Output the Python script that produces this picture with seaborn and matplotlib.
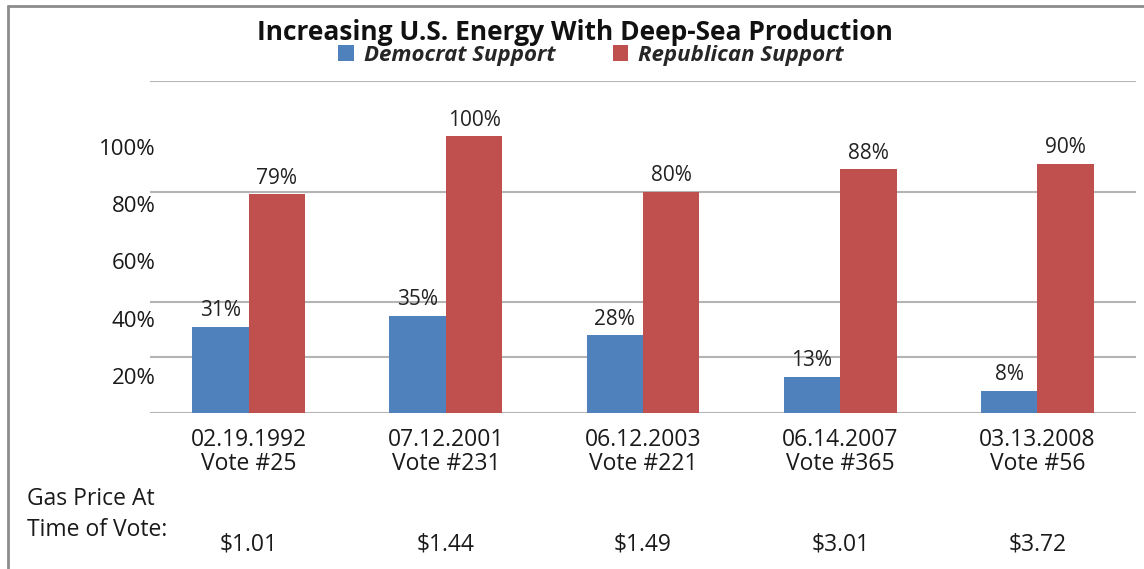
import matplotlib
matplotlib.use("Agg")
import matplotlib.pyplot as plt
import matplotlib.transforms as mtransforms
from matplotlib.patches import Patch
from matplotlib.lines import Line2D
import seaborn as sns
import pandas as pd

# ---- data ----
votes = ["02.19.1992\nVote #25", "07.12.2001\nVote #231", "06.12.2003\nVote #221",
         "06.14.2007\nVote #365", "03.13.2008\nVote #56"]
democrat = [31, 35, 28, 13, 8]
republican = [79, 100, 80, 88, 90]
gas_prices = ["$1.01", "$1.44", "$1.49", "$3.01", "$3.72"]
series_names = ["Democrat Support", "Republican Support"]
y_ticks = [20, 40, 60, 80, 100]
grid_levels = [0, 20, 40, 80, 120]
title = "Increasing U.S. Energy With Deep-Sea Production"

sns.set_theme(style="white")
plt.rcParams["font.family"] = ["Open Sans", "DejaVu Sans"]

BLUE = "#4F81BD"
RED = "#C0504D"
TXT = "#1a1a1a"
W, H = 1144, 569

df = pd.DataFrame({
    "vote": votes * 2,
    "party": [series_names[0]] * len(votes) + [series_names[1]] * len(votes),
    "value": democrat + republican,
})

fig = plt.figure(figsize=(W / 100, H / 100), dpi=100)
ax = fig.add_axes([150 / W, 1 - 412.7 / H, (1136 - 150) / W, (412.7 - 81) / H])

for g in grid_levels:
    ax.axhline(g, color="#b4b4b4", lw=1.5, zorder=0)

sns.barplot(data=df, x="vote", y="value", hue="party", palette=[BLUE, RED],
            width=0.573, gap=0, saturation=1, legend=False, ax=ax,
            edgecolor="none", zorder=2)

ax.set_ylim(0, 120)
ax.set_xlim(-0.5, len(votes) - 0.5)
for s in ax.spines.values():
    s.set_visible(False)
ax.set_xlabel("")
ax.set_ylabel("")
ax.grid(False)

for cont in ax.containers:
    ax.bar_label(cont, labels=[f"{int(b.get_height())}%" for b in cont],
                 padding=4, fontsize=15, color="#222222")

# x tick labels
ax.set_xticks(range(len(votes)))
ax.set_xticklabels(votes, fontsize=16.5, color=TXT, linespacing=1.0)
ax.tick_params(axis="x", length=0, pad=11)

# y tick labels (offset downward as in the reference)
ax.set_yticks(y_ticks)
ax.set_yticklabels([f"{v}%" for v in y_ticks], fontsize=16, color=TXT)
ax.tick_params(axis="y", length=0, pad=-4)
for v, lab in zip(y_ticks, ax.get_yticklabels()):
    off = 11 + (100 - v) * 0.09
    lab.set_transform(lab.get_transform() +
                      mtransforms.ScaledTranslation(0, -off / 100, fig.dpi_scale_trans))

# gas price row
trans = mtransforms.blended_transform_factory(ax.transData, fig.transFigure)
for i, p in enumerate(gas_prices):
    fig.text(i, 1 - 544 / H, p, transform=trans, ha="center", va="center",
             fontsize=16.5, color=TXT)
fig.text(27 / W, 1 - 499 / H, "Gas Price At", ha="left", va="center",
         fontsize=16.5, color=TXT)
fig.text(27 / W, 1 - 530 / H, "Time of Vote:", ha="left", va="center",
         fontsize=16.5, color=TXT)

# title & legend
fig.text(575 / W, 1 - 33 / H, title, ha="center", va="center",
         fontsize=19, fontweight="bold", color="#111111")
handles = [Patch(facecolor=BLUE, edgecolor="none"), Patch(facecolor=RED, edgecolor="none")]
fig.legend(handles, series_names, loc="center", bbox_to_anchor=(591 / W, 1 - 55 / H),
           ncol=2, frameon=False, handlelength=0.7, handleheight=0.7,
           handletextpad=0.45, columnspacing=2.6,
           prop={"style": "italic", "weight": "bold", "size": 16})

# outer frame (left and top)
fig.add_artist(Line2D([8 / W, 8 / W], [0, 1 - 6 / H], transform=fig.transFigure,
                      color="#8c8c8c", lw=2))
fig.add_artist(Line2D([8 / W, 1], [1 - 6 / H, 1 - 6 / H], transform=fig.transFigure,
                      color="#8c8c8c", lw=2))

fig.savefig("out.png", dpi=100, facecolor="white")
